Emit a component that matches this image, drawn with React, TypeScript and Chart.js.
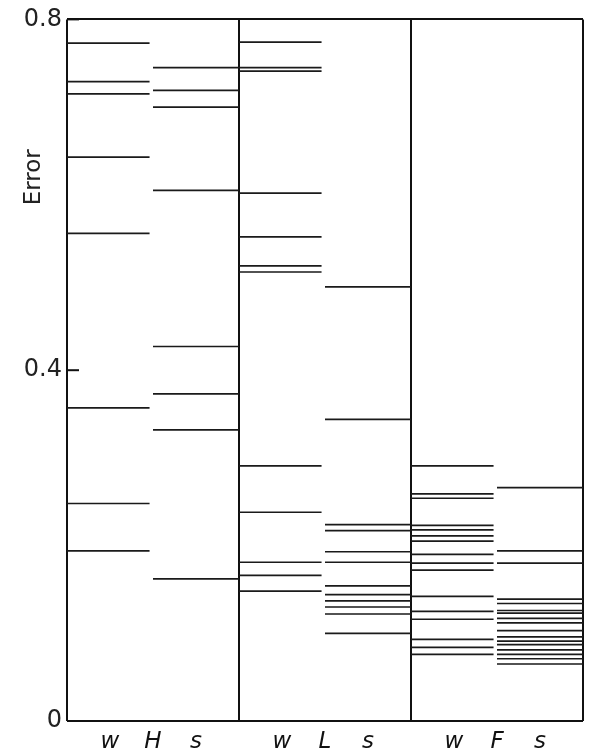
import React, { useEffect, useRef } from "react";
import { Chart, registerables } from "chart.js";

Chart.register(...registerables);

// Error values, per panel (H, L, F) and column (w, s)
const hW = [0.773, 0.729, 0.715, 0.643, 0.556, 0.357, 0.248, 0.194];
const hS = [0.745, 0.719, 0.7, 0.605, 0.427, 0.373, 0.332, 0.162];
const lW = [0.774, 0.745, 0.741, 0.602, 0.552, 0.519, 0.512, 0.291, 0.238, 0.181, 0.166, 0.148];
const lS = [0.495, 0.344, 0.224, 0.217, 0.193, 0.181, 0.154, 0.144, 0.137, 0.13, 0.122, 0.1];
const fW = [0.291, 0.259, 0.254, 0.223, 0.218, 0.211, 0.205, 0.19, 0.18, 0.172, 0.142, 0.125, 0.116, 0.093, 0.084, 0.076];
const fS = [0.266, 0.194, 0.18, 0.139, 0.134, 0.126, 0.123, 0.117, 0.112, 0.103, 0.096, 0.091, 0.087, 0.081, 0.076, 0.071, 0.065];

const panelNames = ["H", "L", "F"];
const columnNames = ["w", "s"];
const yTicks = [0, 0.4, 0.8];
const yTitle = "Error";

const panelData = [
  [hW, hS],
  [lW, lS],
  [fW, fS],
];

export default function App() {
  const ref = useRef<HTMLCanvasElement | null>(null);

  useEffect(() => {
    if (!ref.current) return;
    const colSpan = [
      [0, 0.48],
      [0.5, 1],
    ];
    const pts: any[] = [];
    panelData.forEach((cols, p) => {
      cols.forEach((vals, c) => {
        vals.forEach((v) => {
          pts.push({ x: p + colSpan[c][0], y: v });
          pts.push({ x: p + colSpan[c][1], y: v });
          pts.push({ x: p + colSpan[c][1], y: null });
        });
      });
    });

    const labelPos: { v: number; t: string }[] = [];
    panelNames.forEach((n, p) => {
      labelPos.push({ v: p, t: "" });
      labelPos.push({ v: p + 0.25, t: columnNames[0] });
      labelPos.push({ v: p + 0.5, t: n });
      labelPos.push({ v: p + 0.75, t: columnNames[1] });
    });
    labelPos.push({ v: panelNames.length, t: "" });

    const extras = {
      id: "extras",
      afterDraw(chart: any) {
        const { ctx, chartArea, scales } = chart;
        const y = scales.y;
        ctx.save();
        ctx.strokeStyle = "#111";
        ctx.lineWidth = 2;
        yTicks.forEach((t) => {
          const py = y.getPixelForValue(t);
          ctx.beginPath();
          ctx.moveTo(chartArea.left, py);
          ctx.lineTo(chartArea.left + 12, py);
          ctx.stroke();
        });
        ctx.translate(34, y.getPixelForValue(0.62));
        ctx.rotate(-Math.PI / 2);
        ctx.fillStyle = "#222";
        ctx.font = "23px 'DejaVu Sans'";
        ctx.textAlign = "center";
        ctx.textBaseline = "middle";
        ctx.fillText(yTitle, 0, 0);
        ctx.restore();
      },
    };

    const chart = new Chart(ref.current, {
      type: "line",
      data: {
        datasets: [
          {
            data: pts,
            borderColor: "#1a1a1a",
            borderWidth: 1.7,
            pointRadius: 0,
            tension: 0,
            spanGaps: false,
          },
        ],
      },
      options: {
        animation: false,
        responsive: false,
        events: [],
        layout: { padding: { left: 0, top: 19, right: 6, bottom: 0 } },
        plugins: { legend: { display: false }, tooltip: { enabled: false } },
        scales: {
          x: {
            type: "linear",
            min: 0,
            max: panelNames.length,
            afterBuildTicks: (s: any) => {
              s.ticks = labelPos.map((l) => ({ value: l.v }));
            },
            afterFit: (s: any) => {
              s.height = 34;
            },
            ticks: {
              autoSkip: false,
              maxRotation: 0,
              padding: 7,
              color: "#111",
              font: { family: "'DejaVu Sans'", size: 23, style: "italic" },
              callback: (v: any) => {
                const f = labelPos.find((l) => Math.abs(l.v - v) < 1e-6);
                return f ? f.t : "";
              },
            },
            grid: {
              drawTicks: false,
              lineWidth: 2,
              color: (c: any) =>
                c.tick && Math.abs(c.tick.value - Math.round(c.tick.value)) < 1e-6 ? "#111" : "rgba(0,0,0,0)",
            },
            border: { display: false },
          },
          y: {
            min: 0,
            max: 0.8,
            afterBuildTicks: (s: any) => {
              s.ticks = yTicks.map((v) => ({ value: v }));
            },
            afterFit: (s: any) => {
              s.width = 67;
            },
            ticks: {
              padding: 5,
              color: "#222",
              font: { family: "'DejaVu Sans'", size: 24 },
              callback: (v: any) => (v === 0 ? "0" : String(v)),
            },
            grid: {
              drawTicks: false,
              lineWidth: 2,
              color: (c: any) =>
                c.tick && (c.tick.value === 0 || c.tick.value === 0.8) ? "#111" : "rgba(0,0,0,0)",
            },
            border: { display: false },
          },
        },
      },
      plugins: [extras],
    });
    return () => chart.destroy();
  }, []);

  return (
    <div style={{ position: "fixed", left: 0, top: 0, width: 590, height: 755, background: "#fff" }}>
      <canvas ref={ref} width={590} height={755} style={{ width: 590, height: 755, display: "block" }} />
    </div>
  );
}
